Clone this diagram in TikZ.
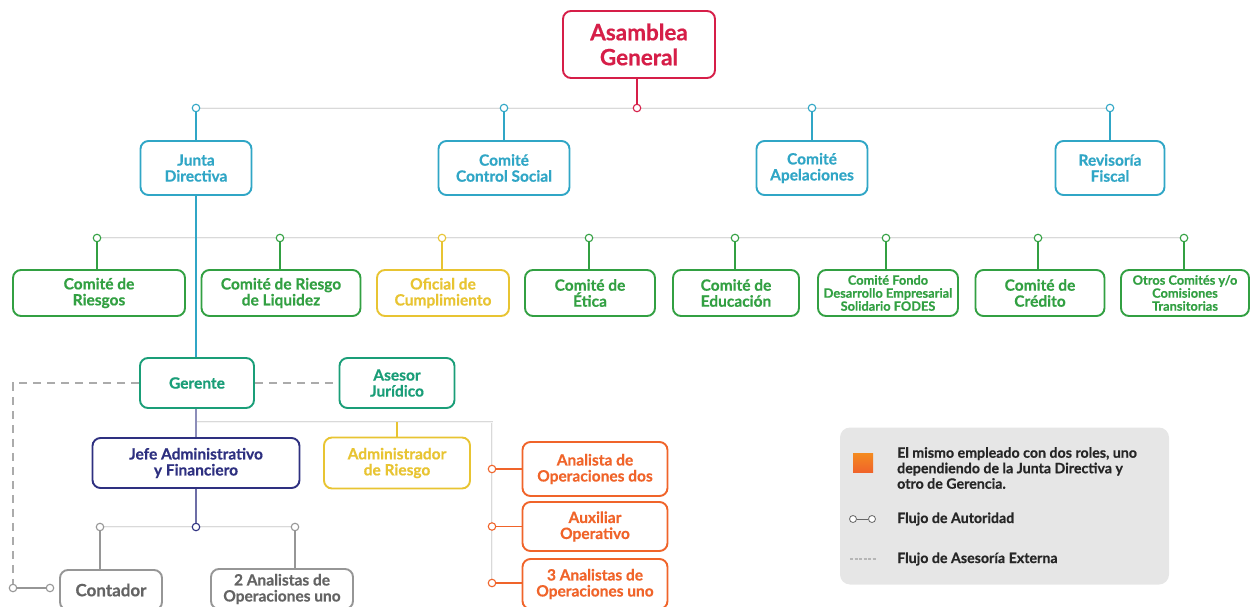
\documentclass[tikz,border=0pt]{standalone}
\usepackage{fontspec}
\setmainfont{Lato}[BoldFeatures={FakeBold=0.5}]
\definecolor{cRed}{RGB}{214,30,72}
\definecolor{cCyan}{RGB}{48,166,198}
\definecolor{cGreen}{RGB}{50,160,66}
\definecolor{cYellow}{RGB}{232,196,50}
\definecolor{cTeal}{RGB}{26,158,120}
\definecolor{cNavy}{RGB}{46,48,128}
\definecolor{cOrange}{RGB}{240,100,42}
\definecolor{cGrayT}{RGB}{100,100,100}
\definecolor{cGrayL}{RGB}{150,150,150}
\definecolor{cLeg}{RGB}{230,230,230}
\tikzset{
  x=1pt, y=-1pt,
  box/.style={draw=#1, text=#1, line width=1.9pt, rounded corners=8pt, align=center,
    inner sep=0pt, fill=white, font=\fontsize{15.5}{16}\selectfont\bfseries},
  dot/.style={circle, draw=#1, fill=white, line width=1.1pt, minimum size=7.5pt, inner sep=0pt},
  link/.style={draw=#1, line width=1.2pt},
  rail/.style={draw=gray!30, line width=0.8pt, double=gray!8, double distance=1pt},
  adv/.style={draw=cGrayL!80, line width=1.5pt, dash pattern=on 8pt off 6pt},
  small/.style={font=\fontsize{12.8}{13}\selectfont\bfseries},
  legtext/.style={text=black!85, inner sep=0pt, font=\fontsize{14.2}{15.5}\selectfont\bfseries},
}
\begin{document}
\begin{tikzpicture}
\useasboundingbox (0,0) rectangle (1251,607);

% ---------- rails ----------
\draw[rail] (195,108) -- (1109,108);
\draw[rail] (98,238) -- (1185,238);
\draw[rail] (196,422) -- (492,422) -- (492,583);
\draw[rail] (100,527) -- (295,527);

% ---------- level 1 ----------
\node[box=cRed, minimum width=152pt, minimum height=67pt,
  font=\fontsize{22.5}{25}\selectfont\bfseries] (ag) at (639,44.5) {Asamblea\\General};
\node[dot=cRed] (kag) at (637,108) {};
\draw[link=cRed] (ag.south -| kag) -- (kag);

% ---------- level 2 ----------
\node[box=cCyan, minimum width=111pt, minimum height=54pt] (jd) at (196,168) {Junta\\Directiva};
\node[box=cCyan, minimum width=131pt, minimum height=54pt] (ccs) at (504,168) {Comité\\Control Social};
\node[box=cCyan, minimum width=111pt, minimum height=54pt] (cap) at (812,168) {Comité\\Apelaciones};
\node[box=cCyan, minimum width=109pt, minimum height=54pt] (rf) at (1110,168) {Revisoría\\Fiscal};
\foreach \n/\x in {jd/196, ccs/504, cap/812, rf/1110}{
  \node[dot=cCyan] (k\n) at (\x,108) {};
  \draw[link=cCyan] (k\n) -- (\n);
}

% ---------- level 3 ----------
\node[box=cGreen, minimum width=172pt, minimum height=46pt] (cr) at (99,293) {Comité de\\Riesgos};
\node[box=cGreen, minimum width=159pt, minimum height=46pt] (crl) at (281,293) {Comité de Riesgo\\de Liquidez};
\node[box=cYellow, minimum width=132pt, minimum height=46pt] (oc) at (443,293) {Oficial de\\Cumplimiento};
\node[box=cGreen, minimum width=130pt, minimum height=46pt] (ce) at (590,293) {Comité de\\Ética};
\node[box=cGreen, minimum width=126pt, minimum height=46pt] (ced) at (736,293) {Comité de\\Educación};
\node[box=cGreen, minimum width=140pt, minimum height=46pt, small] (cf) at (888,293) {Comité Fondo\\Desarrollo Empresarial\\Solidario FODES};
\node[box=cGreen, minimum width=129pt, minimum height=46pt] (ccr) at (1040,293) {Comité de\\Crédito};
\node[box=cGreen, minimum width=128pt, minimum height=46pt, small] (oco) at (1185,293) {Otros Comités y/o\\Comisiones\\Transitorias};
\foreach \n/\x/\c in {cr/97/cGreen, crl/280/cGreen, oc/442/cYellow, ce/589/cGreen, ced/735/cGreen, cf/886/cGreen, ccr/1038/cGreen, oco/1184/cGreen}{
  \node[dot=\c] (k\n) at (\x,238) {};
  \draw[link=\c] (k\n) -- (k\n |- \n.north);
}

% ---------- management ----------
\node[box=cTeal, minimum width=114pt, minimum height=50pt] (ger) at (197,383) {Gerente};
\node[box=cTeal, minimum width=115pt, minimum height=50pt] (aj) at (397,383) {Asesor\\Jurídico};
\draw[link=cCyan] (jd) -- (jd |- ger.north);
\draw[adv] (ger) -- (aj);

\node[box=cNavy, minimum width=207pt, minimum height=50pt] (jaf) at (196,463) {Jefe Administrativo\\y Financiero};
\node[box=cYellow, minimum width=146pt, minimum height=51pt] (ar) at (397,463) {Administrador\\de Riesgo};
\draw[link=cNavy!55] (ger.south -| jaf) -- (jaf);
\coordinate (art) at (397,422);
\draw[link=cYellow] (art) -- (ar);

% operations
\node[box=cOrange, minimum width=145pt, minimum height=54pt] (ao) at (595,469) {Analista de\\Operaciones dos};
\node[box=cOrange, minimum width=145pt, minimum height=49pt] (ax) at (595,526.5) {Auxiliar\\Operativo};
\node[box=cOrange, minimum width=145pt, minimum height=50pt] (an3) at (595,584) {3 Analistas de\\Operaciones uno};
\foreach \n/\y in {ao/469, ax/526.5, an3/583}{
  \node[dot=cOrange] (k\n) at (492,\y) {};
  \draw[link=cOrange] (k\n) -- (k\n -| \n.west);
}

% accounting
\node[dot=cNavy] (kjaf) at (196,527) {};
\draw[link=cNavy!70] (jaf) -- (kjaf);
\node[box=cGrayT, minimum width=102pt, minimum height=40pt, draw=cGrayL, text=cGrayT,
  font=\fontsize{17}{18}\selectfont\bfseries] (cont) at (111,590) {Contador};
\node[box=cGrayT, minimum width=142pt, minimum height=40pt, draw=cGrayL, text=cGrayT] (an2) at (282,589) {2 Analistas de\\Operaciones uno};
\node[dot=cGrayL] (kcont) at (100,527) {};
\node[dot=cGrayL] (kan2) at (295,527) {};
\draw[link=cGrayL] (kcont) -- (kcont |- cont.north);
\draw[link=cGrayL] (kan2) -- (kan2 |- an2.north);

% external advisory loop
\node[dot=cGrayL] (ka) at (13,588) {};
\node[dot=cGrayL] (kb) at (50,588) {};
\draw[adv] (ger.west) -- (13,383) -- (ka.north);
\draw[link=cGrayL] (ka) -- (kb);

% ---------- legend ----------
\node[fill=cLeg, rounded corners=10pt, minimum width=329pt, minimum height=157pt, inner sep=0pt] (leg) at (1004.5,506) {};
\shade[top color=cOrange!75!yellow, bottom color=cOrange] (853,453) rectangle (873,472);
\node[anchor=west, align=left, legtext] (l1) at (897,468) {El mismo empleado con dos roles, uno\\dependiendo de la Junta Directiva y\\otro de Gerencia.};
\node[dot=black!60, minimum size=7pt, line width=0.8pt] (la) at (853,519) {};
\node[dot=black!60, minimum size=7pt, line width=0.8pt] (lb) at (872,519) {};
\draw[black!60, line width=0.8pt] (la) -- (lb);
\node[anchor=west, legtext] (l2) at (897,519) {Flujo de Autoridad};
\coordinate (da) at (850,559);
\coordinate (db) at (877,559);
\draw[cGrayL!70, line width=1.2pt, dash pattern=on 3pt off 1.5pt] (da) -- (db);
\node[anchor=west, legtext] (l3) at (897,559) {Flujo de Asesoría Externa};
\end{tikzpicture}
\end{document}
